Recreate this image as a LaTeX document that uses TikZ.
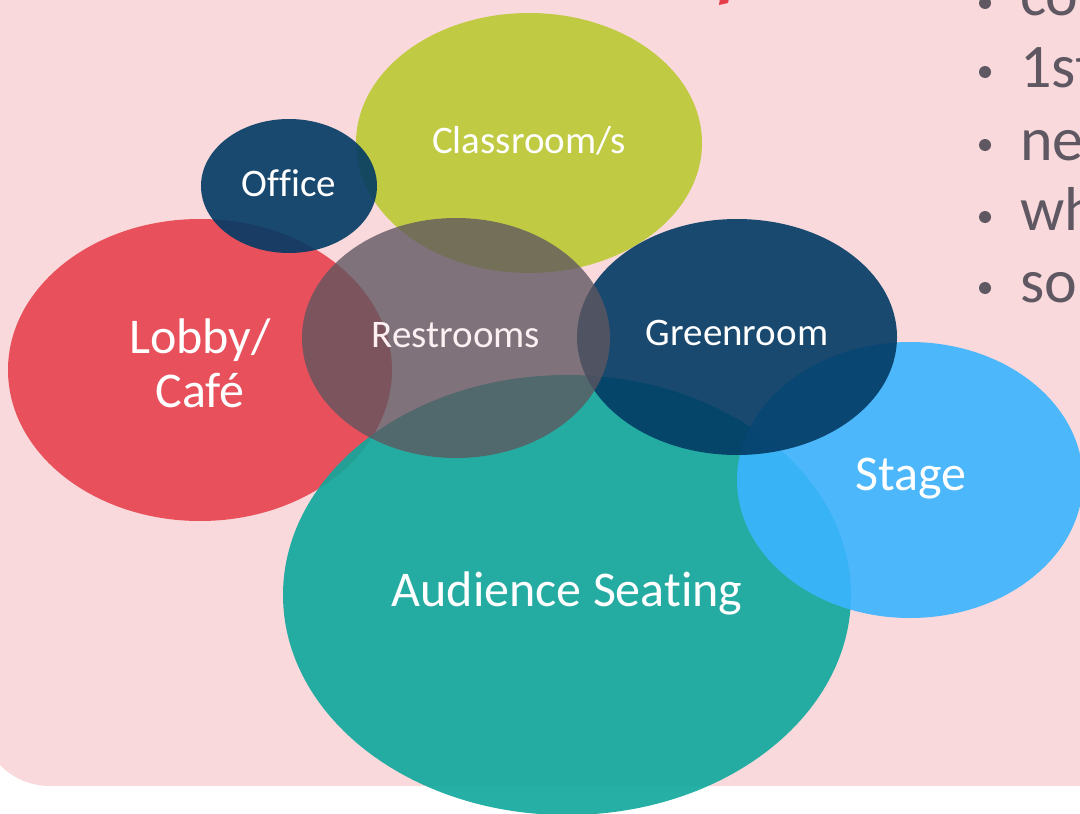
\documentclass[tikz,border=0pt]{standalone}
\usepackage{fontspec}
\setmainfont{Carlito}[Ligatures=NoCommon]
\usetikzlibrary{shapes.geometric}
\definecolor{bgpink}{HTML}{F9D9DB}
\definecolor{cclass}{HTML}{C0CA43}
\definecolor{clobby}{HTML}{E8505B}
\definecolor{cnavy}{HTML}{023A64}
\definecolor{cteal}{HTML}{0FA89C}
\definecolor{cstage}{HTML}{3BB4FF}
\definecolor{crest}{HTML}{5E565F}
\definecolor{cbullet}{HTML}{5F5863}
\definecolor{ctitle}{HTML}{E63E4A}
\definecolor{crtext}{HTML}{FDF0F2}
\begin{document}
\begin{tikzpicture}[x=1pt,y=-1pt,
  blob/.style={ellipse, inner sep=0pt, draw=none},
  lbl/.style={text=white, anchor=base, inner sep=0pt},
  smalllbl/.style={lbl, font=\fontsize{39}{46}\selectfont},
  biglbl/.style={lbl, font=\fontsize{50}{54}\selectfont},
  bullettext/.style={text=cbullet, anchor=base west, inner sep=0pt, font=\fontsize{62}{70}\selectfont},
  bulletdot/.style={fill=cbullet}
]
\useasboundingbox (0,0) rectangle (1080,814);
\clip (0,0) rectangle (1080,814);
\fill[white] (0,0) rectangle (1080,814);
\fill[bgpink, rounded corners=70pt] (-20,-200) rectangle (1400,786);

% title fragment
\fill[ctitle] (720,-2) -- (729,-2) -- (728,3) -- (719,5) -- cycle;

% bullets
\foreach \yy/\bb/\tt in {3/15/co, 72/87/1st, 145/160/ne, 217/230/wh, 288/302/so}{
  \fill[bulletdot] (985,\yy) circle[radius=6pt];
  \node[bullettext] at (1020,\bb) {\tt};
}

% areas
\node[blob, fill=cclass, minimum width=346pt, minimum height=260pt] (classroom) at (529,143) {};
\node[blob, fill=clobby, minimum width=384pt, minimum height=302pt] (lobby) at (200,370) {};
\node[blob, fill=cnavy, fill opacity=0.9, minimum width=176pt, minimum height=134pt] (office) at (289,186) {};
\node[blob, fill=cteal, fill opacity=0.9, minimum width=568pt, minimum height=440pt] (audience) at (567,595) {};
\node[blob, fill=cstage, fill opacity=0.9, minimum width=346pt, minimum height=276pt] (stage) at (910,480) {};
\node[blob, fill=cnavy, fill opacity=0.9, minimum width=320pt, minimum height=236pt] (greenroom) at (737,337) {};
\node[blob, fill=crest, fill opacity=0.78, minimum width=308pt, minimum height=240pt] (restrooms) at (456,338) {};

% labels
\node[smalllbl] (tclass) at (529,153) {Classroom/s};
\node[smalllbl] (toffice) at (289,196) {Office};
\node[smalllbl, text=crtext] (trest) at (456,347) {Restrooms};
\node[smalllbl] (tgreen) at (737,345) {Greenroom};
\node[biglbl, anchor=center, align=center] (tlobby) at (200,363) {Lobby/\\Café};
\node[biglbl] (tstage) at (911,490) {Stage};
\node[biglbl] (taud) at (567,606) {Audience Seating};
\end{tikzpicture}
\end{document}
